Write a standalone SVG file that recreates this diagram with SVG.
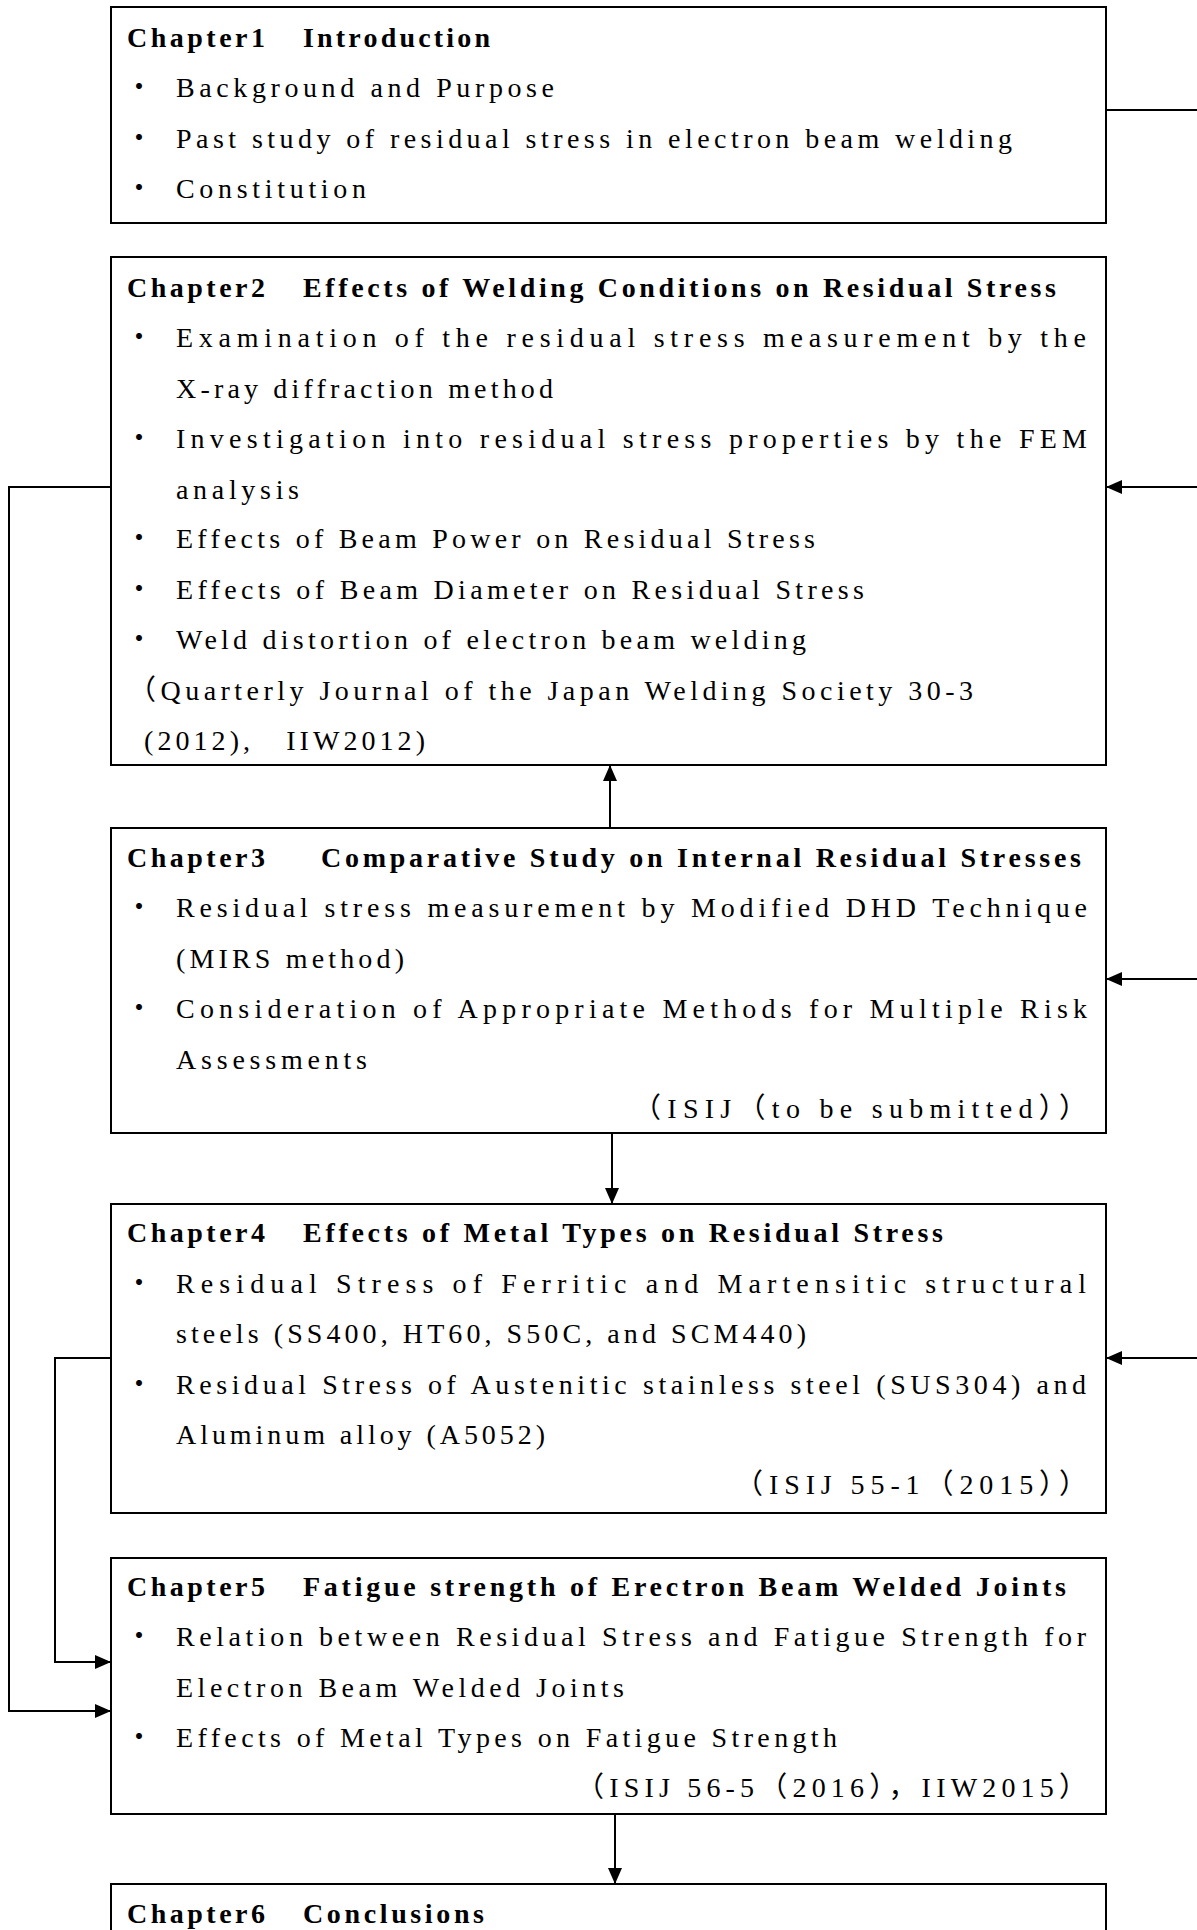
<svg xmlns="http://www.w3.org/2000/svg" width="1197" height="1930" viewBox="0 0 1197 1930">
<style>
  .box { fill: #ffffff; stroke: #000000; stroke-width: 2; }
  .t { font-family: "Liberation Serif", serif; font-size: 28px; fill: #000000; }
  .tj { font-family: "Liberation Serif", "Noto Sans CJK JP", serif; font-size: 28px; fill: #000000; }
  .h { font-family: "Liberation Serif", serif; font-size: 28px; font-weight: bold; fill: #000000; }
  .b { font-family: "Noto Sans CJK JP", sans-serif; font-size: 28px; fill: #000000; text-anchor: middle; }
  .c { fill: none; stroke: #000000; stroke-width: 2; }
  .a { marker-end: url(#ah); }
</style>
<defs>
  <marker id="ah" markerWidth="16" markerHeight="14" refX="16" refY="7" orient="auto" markerUnits="userSpaceOnUse">
    <path d="M0,0 L16,7 L0,14 z" fill="#000000"/>
  </marker>
</defs>
<rect width="1197" height="1930" fill="#ffffff"/>

<g id="connectors">
  <path class="c" d="M1106,110 H1205 V1358"/>
  <path class="c a" d="M1205,487 H1106"/>
  <path class="c a" d="M1205,979 H1106"/>
  <path class="c a" d="M1205,1358 H1106"/>
  <path class="c a" d="M111,487 H9 V1711 H111"/>
  <path class="c a" d="M111,1358 H55 V1662 H111"/>
  <path class="c a" d="M610,828 V765"/>
  <path class="c a" d="M612,1133 V1204"/>
  <path class="c a" d="M615,1814 V1884"/>
</g>

<g id="chapter1">
  <rect class="box" x="111" y="7" width="995" height="216"/>
  <text class="h" x="127" y="46.5" textLength="138" lengthAdjust="spacing">Chapter1</text>
  <text class="h" x="303" y="46.5" textLength="187" lengthAdjust="spacing">Introduction</text>
  <text class="b" x="139" y="97">・</text>
  <text class="t" x="176" y="97" textLength="378" lengthAdjust="spacing">Background and Purpose</text>
  <text class="b" x="139" y="147.5">・</text>
  <text class="t" x="176" y="147.5" textLength="836" lengthAdjust="spacing">Past study of residual stress in electron beam welding</text>
  <text class="b" x="139" y="198">・</text>
  <text class="t" x="176" y="198" textLength="190" lengthAdjust="spacing">Constitution</text>
</g>

<g id="chapter2">
  <rect class="box" x="111" y="257" width="995" height="508"/>
  <text class="h" x="127" y="296.5" textLength="138" lengthAdjust="spacing">Chapter2</text>
  <text class="h" x="303" y="296.5" textLength="753" lengthAdjust="spacing">Effects of Welding Conditions on Residual Stress</text>
  <text class="b" x="139" y="347">・</text>
  <text class="t" x="176" y="347" textLength="910" lengthAdjust="spacing">Examination of the residual stress measurement by the</text>
  <text class="t" x="176" y="397.5" textLength="377" lengthAdjust="spacing">X-ray diffraction method</text>
  <text class="b" x="139" y="448">・</text>
  <text class="t" x="176" y="448" textLength="911" lengthAdjust="spacing">Investigation into residual stress properties by the FEM</text>
  <text class="t" x="176" y="498.5" textLength="123" lengthAdjust="spacing">analysis</text>
  <text class="b" x="139" y="548">・</text>
  <text class="t" x="176" y="548" textLength="639" lengthAdjust="spacing">Effects of Beam Power on Residual Stress</text>
  <text class="b" x="139" y="598.5">・</text>
  <text class="t" x="176" y="598.5" textLength="688" lengthAdjust="spacing">Effects of Beam Diameter on Residual Stress</text>
  <text class="b" x="139" y="649">・</text>
  <text class="t" x="176" y="649" textLength="630" lengthAdjust="spacing">Weld distortion of electron beam welding</text>
  <text class="tj" x="128" y="699.5" textLength="845" lengthAdjust="spacing">（Quarterly Journal of the Japan Welding Society 30-3</text>
  <text class="tj" x="144" y="750" textLength="281" lengthAdjust="spacing">(2012),　IIW2012)</text>
</g>

<g id="chapter3">
  <rect class="box" x="111" y="828" width="995" height="305"/>
  <text class="h" x="127" y="866.5" textLength="138" lengthAdjust="spacing">Chapter3</text>
  <text class="h" x="321" y="866.5" textLength="760" lengthAdjust="spacing">Comparative Study on Internal Residual Stresses</text>
  <text class="b" x="139" y="917">・</text>
  <text class="t" x="176" y="917" textLength="911" lengthAdjust="spacing">Residual stress measurement by Modified DHD Technique</text>
  <text class="t" x="176" y="967.5" textLength="228" lengthAdjust="spacing">(MIRS method)</text>
  <text class="b" x="139" y="1018">・</text>
  <text class="t" x="176" y="1018" textLength="911" lengthAdjust="spacing">Consideration of Appropriate Methods for Multiple Risk</text>
  <text class="t" x="176" y="1068.5" textLength="191" lengthAdjust="spacing">Assessments</text>
  <text class="tj" x="633" y="1118" textLength="454" lengthAdjust="spacing">（ISIJ（to be submitted））</text>
</g>

<g id="chapter4">
  <rect class="box" x="111" y="1204" width="995" height="309"/>
  <text class="h" x="127" y="1242" textLength="138" lengthAdjust="spacing">Chapter4</text>
  <text class="h" x="303" y="1242" textLength="640" lengthAdjust="spacing">Effects of Metal Types on Residual Stress</text>
  <text class="b" x="139" y="1292.5">・</text>
  <text class="t" x="176" y="1292.5" textLength="910" lengthAdjust="spacing">Residual Stress of Ferritic and Martensitic structural</text>
  <text class="t" x="176" y="1343" textLength="630" lengthAdjust="spacing">steels (SS400, HT60, S50C, and SCM440)</text>
  <text class="b" x="139" y="1393.5">・</text>
  <text class="t" x="176" y="1393.5" textLength="910" lengthAdjust="spacing">Residual Stress of Austenitic stainless steel (SUS304) and</text>
  <text class="t" x="176" y="1444" textLength="369" lengthAdjust="spacing">Aluminum alloy (A5052)</text>
  <text class="tj" x="735" y="1493.5" textLength="352" lengthAdjust="spacing">（ISIJ 55-1（2015））</text>
</g>

<g id="chapter5">
  <rect class="box" x="111" y="1558" width="995" height="256"/>
  <text class="h" x="127" y="1595.5" textLength="138" lengthAdjust="spacing">Chapter5</text>
  <text class="h" x="303" y="1595.5" textLength="763" lengthAdjust="spacing">Fatigue strength of Erectron Beam Welded Joints</text>
  <text class="b" x="139" y="1646">・</text>
  <text class="t" x="176" y="1646" textLength="910" lengthAdjust="spacing">Relation between Residual Stress and Fatigue Strength for</text>
  <text class="t" x="176" y="1696.5" textLength="448" lengthAdjust="spacing">Electron Beam Welded Joints</text>
  <text class="b" x="139" y="1747">・</text>
  <text class="t" x="176" y="1747" textLength="661" lengthAdjust="spacing">Effects of Metal Types on Fatigue Strength</text>
  <text class="tj" x="576" y="1796.5" textLength="511" lengthAdjust="spacing">（ISIJ 56-5（2016），IIW2015）</text>
</g>

<g id="chapter6">
  <rect class="box" x="111" y="1884" width="995" height="100"/>
  <text class="h" x="127" y="1923" textLength="138" lengthAdjust="spacing">Chapter6</text>
  <text class="h" x="303" y="1923" textLength="181" lengthAdjust="spacing">Conclusions</text>
</g>
</svg>
